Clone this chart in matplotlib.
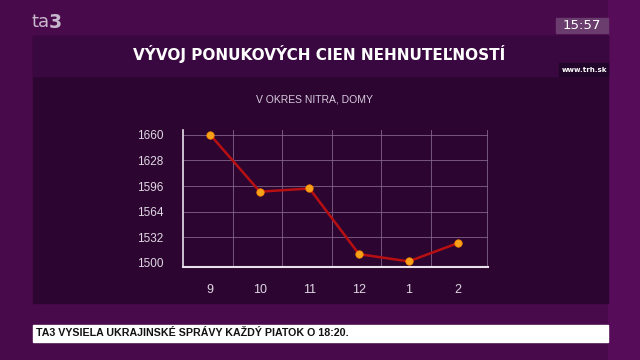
import numpy as np
import matplotlib.pyplot as plt
from matplotlib.patches import Rectangle

# data
months = ['9', '10', '11', '12', '1', '2']
prices = [1660, 1589, 1593, 1511, 1502, 1525]
y_ticks = [1500, 1532, 1564, 1596, 1628, 1660]

title = 'VÝVOJ PONUKOVÝCH CIEN NEHNUTEĽNOSTÍ'
subtitle = 'V OKRES NITRA, DOMY'
ticker = 'TA3 VYSIELA UKRAJINSKÉ SPRÁVY KAŽDÝ PIATOK O 18:20.'

W, H = 640, 360
fig = plt.figure(figsize=(6.4, 3.6), dpi=100)

# background layer in pixel coords
bg = fig.add_axes([0, 0, 1, 1])
bg.set_xlim(0, W)
bg.set_ylim(H, 0)
bg.axis('off')

# purple backdrop with the darker inner panel
bg.add_patch(Rectangle((0, 0), W, H, color='#480a4a', zorder=0))
bg.add_patch(Rectangle((608, 0), 32, H, color='#560c58', zorder=0.5))
bg.add_patch(Rectangle((33, 36), 575, 267, color='#2c0630', zorder=1))
bg.add_patch(Rectangle((33, 36), 575, 40, color='#3a0840', zorder=1.1))

# logo and clock
bg.text(31, 22, 'ta', color='#c8b8cc', fontsize=13, ha='left', va='center', zorder=3)
bg.text(48.5, 22, '3', color='#c8b8cc', fontsize=13.5, fontweight='bold', ha='left', va='center', zorder=3)
bg.add_patch(Rectangle((556, 18), 52, 15, color='#6b3d6e', zorder=2))
bg.text(582, 25.5, '15:57', color='white', fontsize=9.5, ha='center', va='center', zorder=3)

bg.text(319, 54, title, color='white', fontsize=11, fontweight='bold', ha='center', va='center', zorder=3)
bg.add_patch(Rectangle((559, 63), 49, 13, color='#22052a', zorder=2))
bg.text(584, 70, 'www.trh.sk', color='white', fontsize=5, fontweight='bold', ha='center', va='center', zorder=3)
bg.text(314, 99, subtitle, color='#d8cce0', fontsize=7.5, family='Liberation Sans',
        ha='center', va='center', zorder=3)

# bottom ticker
bg.add_patch(Rectangle((33, 325), 575, 17, color='white', zorder=2))
bg.text(36, 333.5, ticker, color='#111111', fontsize=7.7, fontweight='bold', family='Liberation Sans',
        ha='left', va='center', zorder=3)

# chart axes placed at pixel box x 183..488, y 130..267
ax = fig.add_axes([183 / W, 1 - 267 / H, (488 - 183) / W, (267 - 130) / H])
ax.set_facecolor('none')
x = np.arange(len(months))
ax.plot(x, prices, color='#b80f12', linewidth=1.8, zorder=3)
ax.scatter(x, prices, s=28, color='#f7a21b', edgecolors='#ff8a00', linewidths=0.6, zorder=4)

ax.set_xlim(-0.55, 5.6)
ax.set_ylim(1495, 1666)
ax.set_yticks(y_ticks)
ax.set_xticks(x)
ax.set_xticklabels(months)
ax.tick_params(axis='both', length=0, colors='#e0d8e4', labelsize=8.5)
ax.tick_params(axis='y', pad=14)
ax.tick_params(axis='x', pad=12, labelsize=9)
for lbl in ax.get_xticklabels() + ax.get_yticklabels():
    lbl.set_family('Liberation Sans')

for yv in y_ticks[1:]:
    ax.axhline(yv, color='#8a6a90', linewidth=0.7, alpha=0.8, zorder=1)
for xv in np.arange(0.45, 5.0, 1.0):
    ax.axvline(xv, color='#8a6a90', linewidth=0.7, alpha=0.8, zorder=1)
ax.axvline(5.58, color='#8a6a90', linewidth=0.7, alpha=0.8, zorder=1)

for side in ['top', 'right']:
    ax.spines[side].set_visible(False)
ax.spines['left'].set_color('#e8e0ea')
ax.spines['bottom'].set_color('#e8e0ea')
ax.spines['left'].set_linewidth(1.2)
ax.spines['bottom'].set_linewidth(1.5)

fig.savefig('out.png', dpi=100)
